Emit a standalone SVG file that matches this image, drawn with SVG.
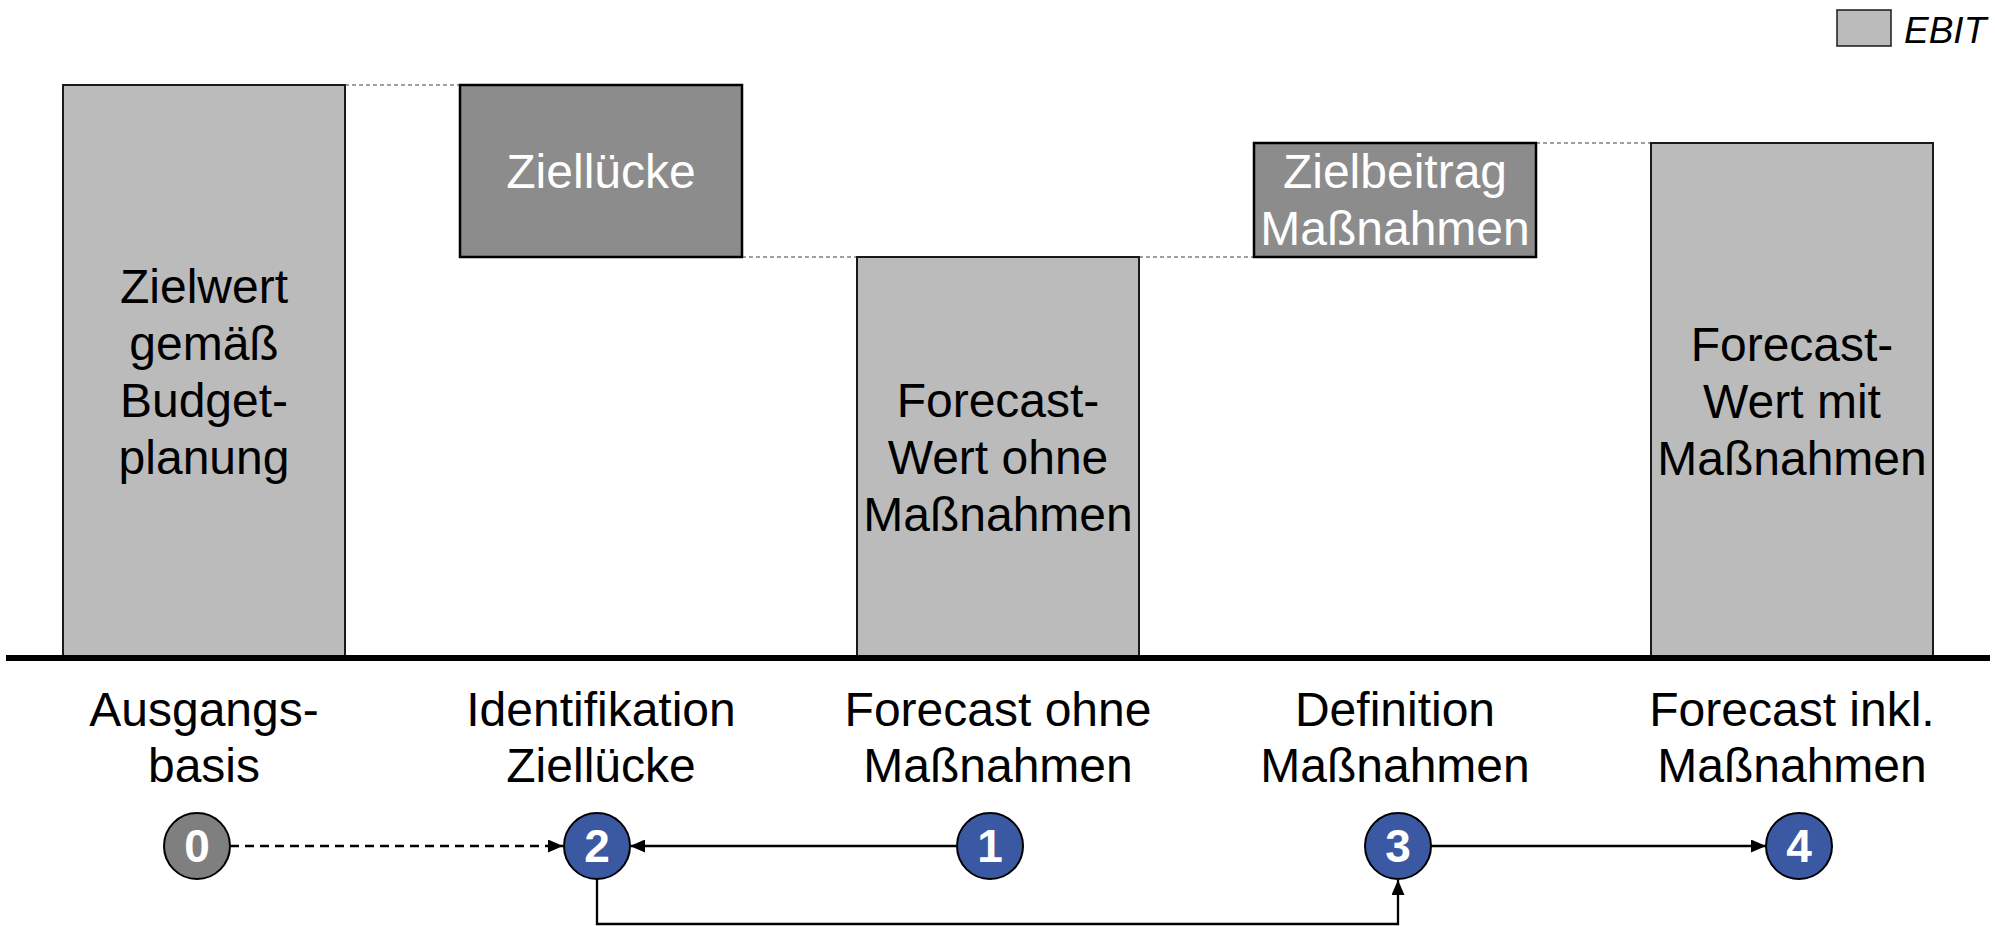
<svg xmlns="http://www.w3.org/2000/svg" width="1995" height="926" viewBox="0 0 1995 926">
<style>
text{font-family:"Liberation Sans",Arial,sans-serif;}
.bar{fill:#BBBBBB;stroke:#1a1a1a;stroke-width:2;}
.gap{fill:#8C8C8C;stroke:#000;stroke-width:2.5;}
.lbl{font-size:48px;fill:#000;text-anchor:middle;}
.wl{font-size:48px;fill:#fff;text-anchor:middle;}
.guide{stroke:#808080;stroke-width:1.5;stroke-dasharray:4 3;fill:none;}
.step{stroke:#000;stroke-width:2;}
.blue{fill:#3B58A2;}
.grey{fill:#7F7F7F;}
.num{font-size:46px;font-weight:bold;fill:#fff;text-anchor:middle;}
.conn{stroke:#000;stroke-width:2.3;fill:none;}
</style>
<defs>
<marker id="ah" markerUnits="userSpaceOnUse" markerWidth="15" markerHeight="13" refX="15" refY="6.5" orient="auto">
<path d="M0,0 L15,6.5 L0,13 z" fill="#000"/>
</marker>
</defs>
<rect width="1995" height="926" fill="#fff"/>

<g id="legend">
<rect x="1837" y="10" width="54" height="36" fill="#BBBBBB" stroke="#1a1a1a" stroke-width="1.5"/>
<text x="1904" y="43" font-size="37" font-style="italic" fill="#000">EBIT</text>
</g>

<g id="guides">
<line class="guide" x1="345" y1="85" x2="460" y2="85"/>
<line class="guide" x1="742" y1="257" x2="857" y2="257"/>
<line class="guide" x1="1139" y1="257" x2="1254" y2="257"/>
<line class="guide" x1="1536" y1="143" x2="1651" y2="143"/>
</g>

<g id="bar-zielwert">
<rect class="bar" x="63" y="85" width="282" height="573"/>
<text class="lbl"><tspan x="204" y="303">Zielwert</tspan><tspan x="204" y="360">gemäß</tspan><tspan x="204" y="417">Budget-</tspan><tspan x="204" y="474">planung</tspan></text>
</g>
<g id="bar-ziellücke">
<rect class="gap" x="460" y="85" width="282" height="172"/>
<text class="wl" x="601" y="188">Ziellücke</text>
</g>
<g id="bar-forecast-ohne">
<rect class="bar" x="857" y="257" width="282" height="401"/>
<text class="lbl"><tspan x="998" y="417">Forecast-</tspan><tspan x="998" y="474">Wert ohne</tspan><tspan x="998" y="531">Maßnahmen</tspan></text>
</g>
<g id="bar-zielbeitrag">
<rect class="gap" x="1254" y="143" width="282" height="114"/>
<text class="wl"><tspan x="1395" y="188">Zielbeitrag</tspan><tspan x="1395" y="245">Maßnahmen</tspan></text>
</g>
<g id="bar-forecast-mit">
<rect class="bar" x="1651" y="143" width="282" height="515"/>
<text class="lbl"><tspan x="1792" y="361">Forecast-</tspan><tspan x="1792" y="418">Wert mit</tspan><tspan x="1792" y="475">Maßnahmen</tspan></text>
</g>

<g id="axis">
<line x1="6" y1="658" x2="1990" y2="658" stroke="#000" stroke-width="6"/>
</g>

<g id="labels">
<text class="lbl"><tspan x="204" y="726">Ausgangs-</tspan><tspan x="204" y="782">basis</tspan></text>
<text class="lbl"><tspan x="601" y="726">Identifikation</tspan><tspan x="601" y="782">Ziellücke</tspan></text>
<text class="lbl"><tspan x="998" y="726">Forecast ohne</tspan><tspan x="998" y="782">Maßnahmen</tspan></text>
<text class="lbl"><tspan x="1395" y="726">Definition</tspan><tspan x="1395" y="782">Maßnahmen</tspan></text>
<text class="lbl"><tspan x="1792" y="726">Forecast inkl.</tspan><tspan x="1792" y="782">Maßnahmen</tspan></text>
</g>

<g id="connectors">
<line class="conn" x1="230" y1="846" x2="563" y2="846" stroke-dasharray="9 6" marker-end="url(#ah)"/>
<line class="conn" x1="956" y1="846" x2="630" y2="846" marker-end="url(#ah)"/>
<polyline class="conn" points="597,879 597,924 1398,924 1398,880" marker-end="url(#ah)"/>
<line class="conn" x1="1431" y1="846" x2="1766" y2="846" marker-end="url(#ah)"/>
</g>

<g id="step-0">
<circle class="step grey" cx="197" cy="846" r="33"/>
<text class="num" x="197" y="862">0</text>
</g>
<g id="step-2">
<circle class="step blue" cx="597" cy="846" r="33"/>
<text class="num" x="597" y="862">2</text>
</g>
<g id="step-1">
<circle class="step blue" cx="990" cy="846" r="33"/>
<text class="num" x="990" y="862">1</text>
</g>
<g id="step-3">
<circle class="step blue" cx="1398" cy="846" r="33"/>
<text class="num" x="1398" y="862">3</text>
</g>
<g id="step-4">
<circle class="step blue" cx="1799" cy="846" r="33"/>
<text class="num" x="1799" y="862">4</text>
</g>
</svg>
